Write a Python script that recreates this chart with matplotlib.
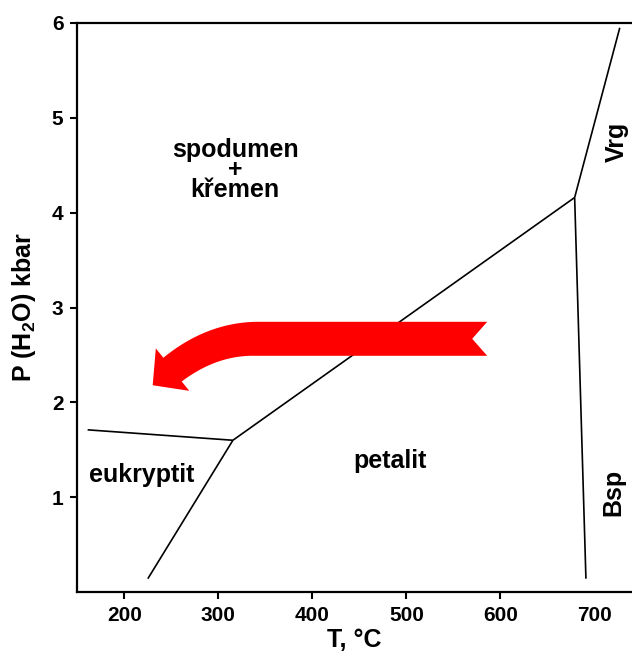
import numpy as np
import matplotlib
matplotlib.use("Agg")
import matplotlib.pyplot as plt
from matplotlib.patches import Polygon

plt.rcParams["font.family"] = ["Liberation Sans", "DejaVu Sans"]
plt.rcParams["font.weight"] = "bold"
plt.rcParams["axes.labelweight"] = "bold"
plt.rcParams["mathtext.fontset"] = "custom"
plt.rcParams["mathtext.rm"] = "Liberation Sans:bold"
plt.rcParams["mathtext.bf"] = "Liberation Sans:bold"

# phase boundaries (T in °C, P in kbar)
eukr_T = [161, 315.5]
eukr_P = [1.71, 1.60]
low_T = [225, 315.5]
low_P = [0.14, 1.60]
diag_T = [315.5, 679]
diag_P = [1.60, 4.16]
vrg_T = [679, 727]
vrg_P = [4.16, 5.95]
bsp_T = [679, 691]
bsp_P = [4.16, 0.14]

# arrow: tail, end of straight part, bend control, head base, tip
arrow_T = [586, 340, 293, 251.3, 230.2]
arrow_P = [2.67, 2.67, 2.67, 2.345, 2.18]

x_ticks = [200, 300, 400, 500, 600, 700]
y_ticks = [1, 2, 3, 4, 5, 6]

fig = plt.figure(figsize=(6.32, 6.51), dpi=100)
ax = fig.add_axes([77.3 / 632, 1 - 592 / 651, (632 - 77.3) / 632, (592 - 23) / 651])
ax.set_xlim(150, 740)
ax.set_ylim(0, 6)

for T, P in [(eukr_T, eukr_P), (low_T, low_P), (diag_T, diag_P),
             (vrg_T, vrg_P), (bsp_T, bsp_P)]:
    ax.plot(T, P, color="black", lw=1.2, solid_capstyle="butt", zorder=2)

# red bent arrow, built in display units then mapped back to data
pts = ax.transData.transform(np.column_stack([arrow_T, arrow_P]))
tail, s_end, ctrl, base, tip = pts
t = np.linspace(0, 1, 40)[:, None]
curve = (1 - t) ** 2 * s_end + 2 * (1 - t) * t * ctrl + t ** 2 * base
center = np.vstack([np.linspace(tail, s_end, 20), curve[1:]])
tang = np.gradient(center, axis=0)
tang /= np.linalg.norm(tang, axis=1)[:, None]
norm = np.column_stack([-tang[:, 1], tang[:, 0]])
hw = np.concatenate([np.full(20, 17.0), np.linspace(17, 15, 40)[1:]])
upper = center + norm * hw[:, None]
lower = center - norm * hw[:, None]
d = (tip - base) / np.linalg.norm(tip - base)
nd = np.array([-d[1], d[0]])
barb_a = base + nd * 27
barb_b = base - nd * 27
notch = tail + tang[0] * 15
poly = np.vstack([upper, barb_a, tip, barb_b, lower[::-1], notch])
poly = ax.transData.inverted().transform(poly)
ax.add_patch(Polygon(poly, closed=True, facecolor="#ff0000", edgecolor="none", zorder=3))

# region labels
fs = 18
ax.text(318, 4.17, "spodumen\n+\nkřemen", ha="center", va="baseline",
        multialignment="center", linespacing=0.77, fontsize=fs)
ax.text(218.3, 1.16, "eukryptit", ha="center", va="baseline", fontsize=fs)
ax.text(482.6, 1.31, "petalit", ha="center", va="baseline", fontsize=fs)
ax.text(724, 4.75, "Vrg", ha="center", va="center", rotation=90, fontsize=fs)
ax.text(720, 1.05, "Bsp", ha="center", va="center", rotation=90, fontsize=fs)

ax.spines["right"].set_visible(False)
for s in ["left", "bottom", "top"]:
    ax.spines[s].set_linewidth(1.6)

ax.set_xticks(x_ticks)
ax.set_yticks(y_ticks)
ax.tick_params(axis="both", direction="out", length=5, width=1.5, labelsize=15, pad=5)
ax.xaxis.get_major_ticks()[-1].tick1line.set_visible(False)

ax.set_xlabel("T, °C", fontsize=18, labelpad=2)
ax.set_ylabel(r"P (H$_{2}$O) kbar", fontsize=18, labelpad=10)

fig.savefig("out.png", dpi=100)
plt.close(fig)
